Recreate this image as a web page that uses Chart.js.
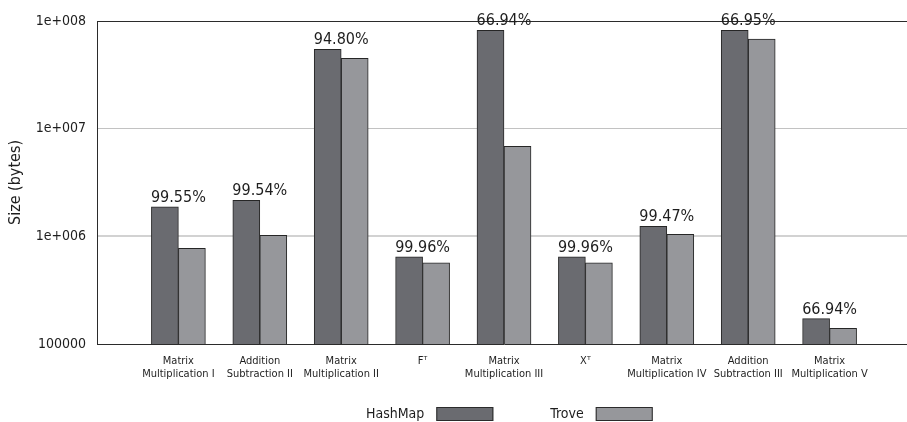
<!DOCTYPE html>
<html>
<head>
<meta charset="utf-8">
<script src="https://cdn.jsdelivr.net/npm/chart.js@4/dist/chart.umd.min.js"></script>
<style>
  html, body { margin: 0; padding: 0; background: #ffffff; overflow: hidden; }
  #wrap { width: 922px; height: 422px; }
</style>
</head>
<body>
<div id="wrap"><canvas id="c" width="922" height="422"></canvas></div>
<script>
// Benchmark groups (x axis)
const categories = [
  ['Matrix', 'Multiplication I'],
  ['Addition', 'Subtraction II'],
  ['Matrix', 'Multiplication II'],
  'F\u1D40',
  ['Matrix', 'Multiplication III'],
  'X\u1D40',
  ['Matrix', 'Multiplication IV'],
  ['Addition', 'Subtraction III'],
  ['Matrix', 'Multiplication V']
];

// Memory footprint in bytes
const hashMapSizes = [1880000, 2160000, 54600000, 644000, 81900000, 644000, 1240000, 81900000, 172000];
const troveSizes   = [775000, 1020000, 45100000, 566000, 6860000, 566000, 1045000, 68000000, 140000];

// Savings printed above each group
const savingsLabels = ['99.55%', '99.54%', '94.80%', '99.96%', '66.94%', '99.96%', '99.47%', '66.95%', '66.94%'];

// Log axis ticks
const yTickValues = [100000, 1000000, 10000000, 100000000];
const yTickLabels = ['100000', '1e+006', '1e+007', '1e+008'];

const seriesNames = ['HashMap', 'Trove'];
const seriesColors = ['#6a6b70', '#96979b'];

const FONT = '"DejaVu Sans Condensed", "DejaVu Sans", sans-serif';

// one empty slot on each side of the groups
const axisLabels = [''].concat(categories, ['']);
const pad = arr => [null].concat(arr, [null]);

const savingsPlugin = {
  id: 'savings',
  afterDatasetsDraw(chart) {
    const ctx = chart.ctx;
    const xScale = chart.scales.x;
    const meta = chart.getDatasetMeta(0);
    ctx.save();
    ctx.font = '16px ' + FONT;
    ctx.fillStyle = '#1e1e1e';
    ctx.textAlign = 'center';
    ctx.textBaseline = 'alphabetic';
    savingsLabels.forEach((txt, i) => {
      const bar = meta.data[i + 1];
      const x = xScale.getPixelForValue(i + 1);
      ctx.fillText(txt, x, bar.y - 5);
    });
    ctx.restore();
  }
};

const legendRowPlugin = {
  id: 'legendRow',
  afterDraw(chart) {
    const ctx = chart.ctx;
    ctx.save();
    ctx.font = '14px ' + FONT;
    ctx.textAlign = 'left';
    ctx.textBaseline = 'middle';
    let cx = 366;
    const cy = 414;
    chart.data.datasets.forEach(ds => {
      ctx.fillStyle = '#1e1e1e';
      ctx.fillText(ds.label, cx, cy);
      cx += ctx.measureText(ds.label).width + 12;
      ctx.fillStyle = ds.backgroundColor;
      ctx.fillRect(cx, cy - 7, 57, 14);
      ctx.strokeStyle = '#2b2b2b';
      ctx.lineWidth = 1;
      ctx.strokeRect(cx + 0.5, cy - 7 + 0.5, 56, 13);
      cx += 57 + 57;
    });
    ctx.restore();
  }
};

new Chart(document.getElementById('c'), {
  type: 'bar',
  data: {
    labels: axisLabels,
    datasets: [
      {
        label: seriesNames[0],
        data: pad(hashMapSizes),
        backgroundColor: seriesColors[0],
        borderColor: '#262626',
        borderWidth: 1,
        barThickness: 27
      },
      {
        label: seriesNames[1],
        data: pad(troveSizes),
        backgroundColor: seriesColors[1],
        borderColor: '#262626',
        borderWidth: 1,
        barThickness: 27
      }
    ]
  },
  options: {
    responsive: false,
    animation: false,
    devicePixelRatio: 1,
    layout: { padding: { top: 21, left: 0, right: 0, bottom: 0 } },
    plugins: {
      legend: { display: false },
      tooltip: { enabled: false }
    },
    scales: {
      x: {
        offset: false,
        grid: { display: false, drawTicks: false },
        border: { display: true, color: '#2b2b2b', width: 1 },
        ticks: {
          autoSkip: false,
          maxRotation: 0,
          minRotation: 0,
          padding: 11,
          color: '#1e1e1e',
          font: { family: FONT, size: 11, lineHeight: 1.15 }
        },
        afterFit(scale) { scale.height = 78; }
      },
      y: {
        type: 'logarithmic',
        min: yTickValues[0],
        max: yTickValues[yTickValues.length - 1],
        afterBuildTicks(scale) {
          scale.ticks = yTickValues.map(v => ({ value: v }));
        },
        afterFit(scale) { scale.width = 97; },
        grid: {
          drawTicks: false,
          color(ctx) {
            const v = ctx.tick && ctx.tick.value;
            if (v === yTickValues[3]) return '#2b2b2b';
            if (v === yTickValues[0]) return 'rgba(0,0,0,0)';
            if (v === yTickValues[1]) return '#d2d2d2';
            return '#c2c2c2';
          },
          lineWidth(ctx) {
            const v = ctx.tick && ctx.tick.value;
            return v === yTickValues[1] ? 2 : 1;
          }
        },
        border: { display: true, color: '#2b2b2b', width: 1 },
        ticks: {
          padding: 11,
          color: '#1e1e1e',
          font: { family: FONT, size: 14 },
          callback(value, index) { return yTickLabels[index]; }
        },
        title: {
          display: true,
          text: 'Size (bytes)',
          color: '#1e1e1e',
          font: { family: FONT, size: 16 },
          padding: { top: 6, bottom: 0 }
        }
      }
    }
  },
  plugins: [savingsPlugin, legendRowPlugin]
});
</script>
</body>
</html>
